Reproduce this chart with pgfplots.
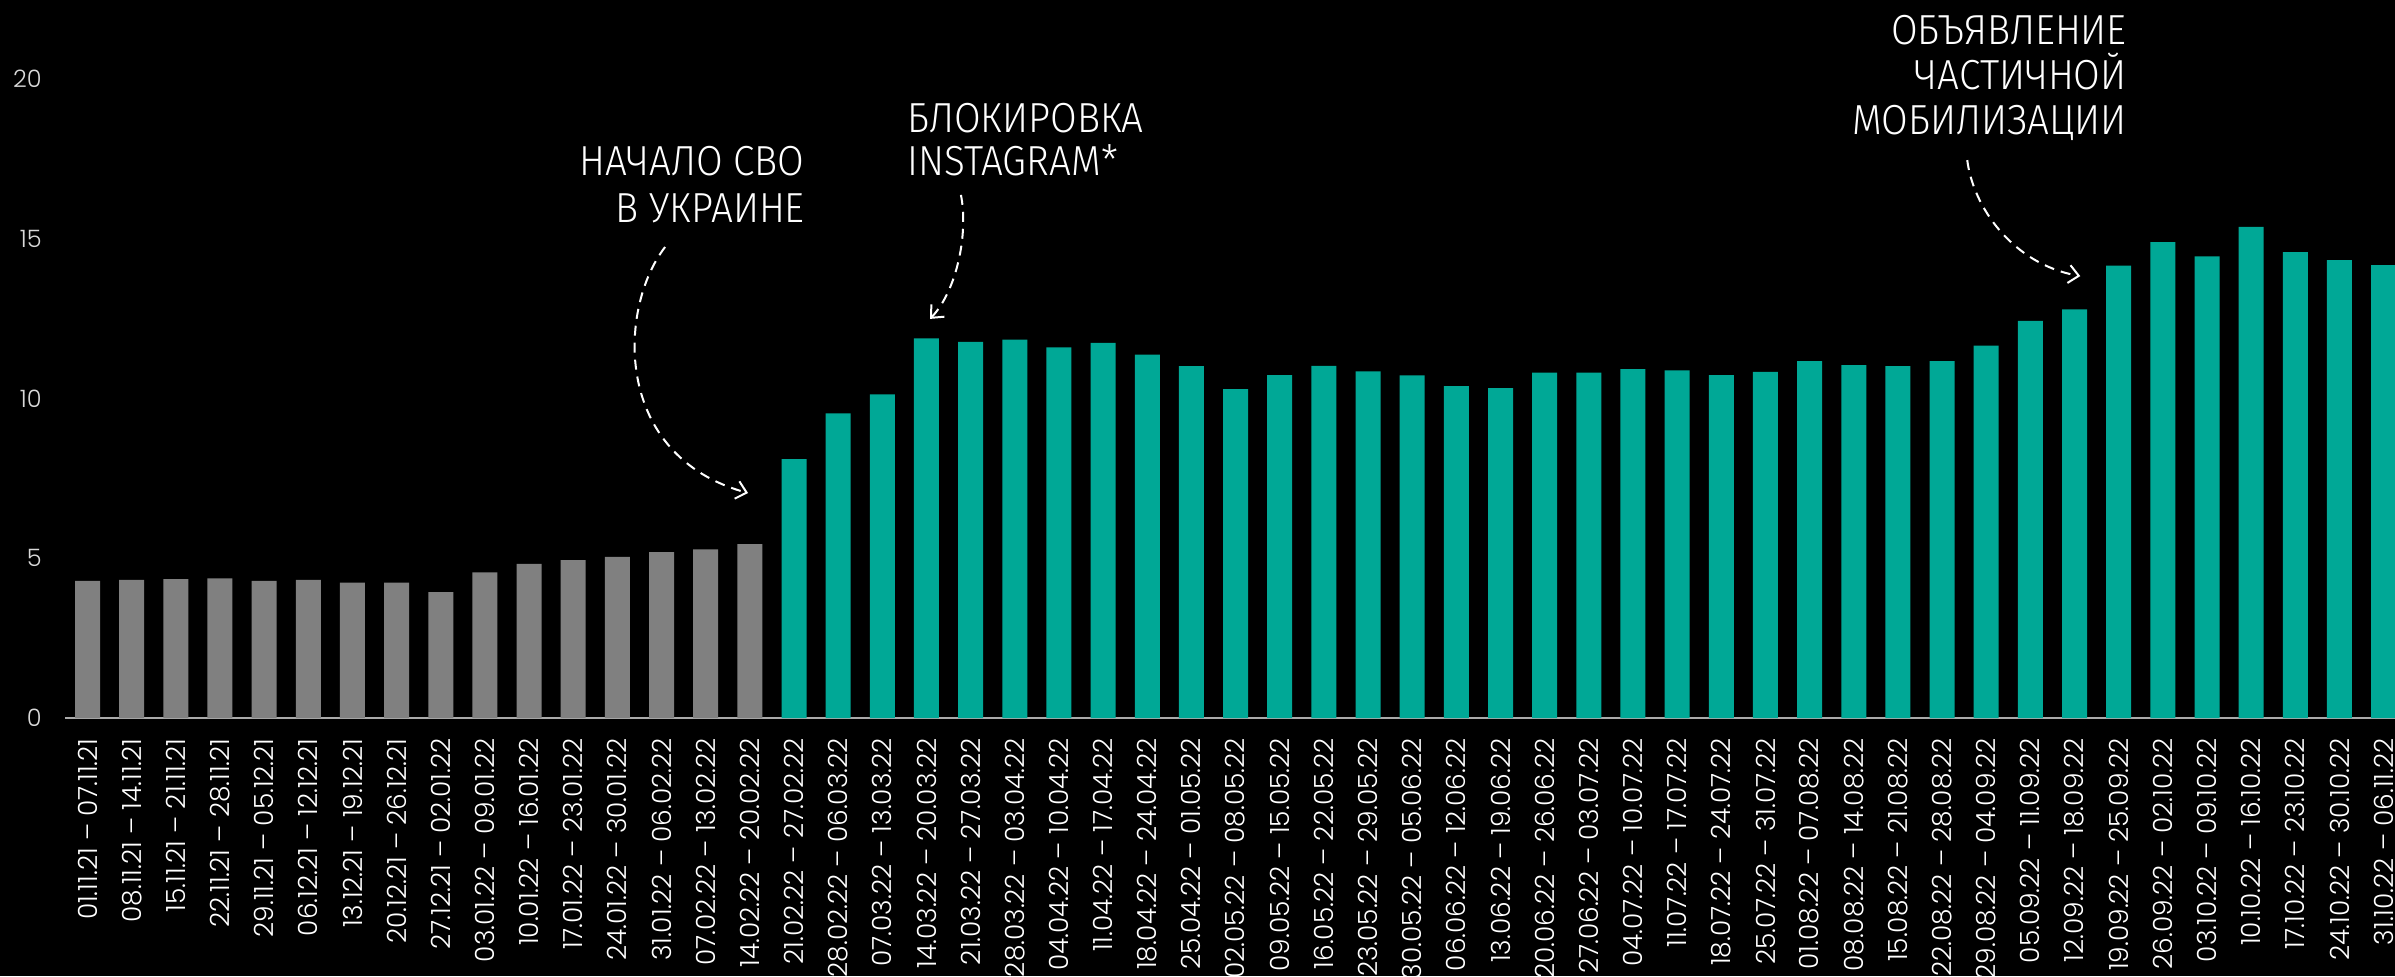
\documentclass[border=0pt]{standalone}
\usepackage{fontspec}
\usepackage{pgfplots}
\pgfplotsset{compat=1.18}
\usetikzlibrary{arrows.meta}
\setmainfont{Fira Sans}
\newfontfamily\annfont{Fira Sans Light}[FakeStretch=0.92]
\newfontfamily\tickfont{Poppins Light}
\definecolor{teal1}{RGB}{0,168,150}
\definecolor{gray1}{RGB}{128,128,128}
\definecolor{basec}{RGB}{170,170,170}
\begin{document}
\begin{tikzpicture}
\fill[black] (-32.5pt,-129pt) rectangle (1165pt,359pt);
\begin{axis}[
  at={(0,0)}, anchor=south west,
  width=1165pt, height=359pt, scale only axis,
  xmin=-0.51, xmax=52.26, ymin=0, ymax=22.47,
  axis line style={draw=none},
  major tick length=0pt,
  xtick={0,...,52},
  xticklabels={01.11.21 – 07.11.21,08.11.21 – 14.11.21,15.11.21 – 21.11.21,22.11.21 – 28.11.21,29.11.21 – 05.12.21,06.12.21 – 12.12.21,13.12.21 – 19.12.21,20.12.21 – 26.12.21,27.12.21 – 02.01.22,03.01.22 – 09.01.22,10.01.22 – 16.01.22,17.01.22 – 23.01.22,24.01.22 – 30.01.22,31.01.22 – 06.02.22,07.02.22 – 13.02.22,14.02.22 – 20.02.22,21.02.22 – 27.02.22,28.02.22 – 06.03.22,07.03.22 – 13.03.22,14.03.22 – 20.03.22,21.03.22 – 27.03.22,28.03.22 – 03.04.22,04.04.22 – 10.04.22,11.04.22 – 17.04.22,18.04.22 – 24.04.22,25.04.22 – 01.05.22,02.05.22 – 08.05.22,09.05.22 – 15.05.22,16.05.22 – 22.05.22,23.05.22 – 29.05.22,30.05.22 – 05.06.22,06.06.22 – 12.06.22,13.06.22 – 19.06.22,20.06.22 – 26.06.22,27.06.22 – 03.07.22,04.07.22 – 10.07.22,11.07.22 – 17.07.22,18.07.22 – 24.07.22,25.07.22 – 31.07.22,01.08.22 – 07.08.22,08.08.22 – 14.08.22,15.08.22 – 21.08.22,22.08.22 – 28.08.22,29.08.22 – 04.09.22,05.09.22 – 11.09.22,12.09.22 – 18.09.22,19.09.22 – 25.09.22,26.09.22 – 02.10.22,03.10.22 – 09.10.22,10.10.22 – 16.10.22,17.10.22 – 23.10.22,24.10.22 – 30.10.22,31.10.22 – 06.11.22},
  xticklabel style={rotate=90, anchor=east, inner sep=0pt, font=\tickfont\fontsize{13.2}{13.2}\selectfont, text=white},
  xticklabel shift=10pt,
  ytick={0,5,10,15,20},
  yticklabel style={anchor=east, inner sep=0pt, xshift=-11.5pt, font=\tickfont\fontsize{12}{12}\selectfont, text=white!85!black},
  /pgf/number format/assume math mode=true,
  clip=false,
]
\draw[basec, line width=1pt] (rel axis cs:0,0) -- (rel axis cs:1,0);
\addplot[ybar, bar width=12.5pt, fill=gray1, draw=none] coordinates {
(0,4.29) (1,4.32) (2,4.35) (3,4.37) (4,4.29) (5,4.32) (6,4.24) (7,4.24)
(8,3.94) (9,4.56) (10,4.82) (11,4.94) (12,5.04) (13,5.19) (14,5.28) (15,5.44)};
\addplot[ybar, bar width=12.5pt, fill=teal1, draw=none] coordinates {
(16,8.10) (17,9.53) (18,10.13) (19,11.88) (20,11.77) (21,11.84) (22,11.60) (23,11.74)
(24,11.37) (25,11.01) (26,10.29) (27,10.73) (28,11.02) (29,10.85) (30,10.72) (31,10.39)
(32,10.32) (33,10.81) (34,10.81) (35,10.92) (36,10.88) (37,10.73) (38,10.83) (39,11.17)
(40,11.04) (41,11.01) (42,11.17) (43,11.65) (44,12.43) (45,12.79) (46,14.16) (47,14.89)
(48,14.45) (49,15.37) (50,14.58) (51,14.33) (52,14.17)};
\node[align=right, anchor=north east, inner sep=0pt, text=white, font=\annfont\fontsize{21}{23.5}\selectfont] at (axis cs:16.25,17.9) {НАЧАЛО СВО\\В УКРАИНЕ};
\node[align=left, anchor=north west, inner sep=0pt, text=white, font=\annfont\fontsize{21}{21.5}\selectfont] at (axis cs:18.56,19.25) {БЛОКИРОВКА\\INSTAGRAM*};
\node[align=right, anchor=north east, inner sep=0pt, text=white, font=\annfont\fontsize{21}{22.5}\selectfont] at (axis cs:46.19,22.0) {ОБЪЯВЛЕНИЕ\\ЧАСТИЧНОЙ\\МОБИЛИЗАЦИИ};
\draw[white, line width=1pt, dash pattern=on 5pt off 3.5pt, -{Straight Barb[length=5pt, width=9pt]}] (axis cs:13.08,14.74) .. controls (axis cs:12.0,12.8) and (axis cs:11.9,8.2) .. (axis cs:14.96,7.04);
\draw[white, line width=1pt, dash pattern=on 5pt off 3.5pt, -{Straight Barb[length=5pt, width=9pt]}] (axis cs:19.78,16.37) .. controls (axis cs:19.95,15.2) and (axis cs:19.7,13.4) .. (axis cs:19.08,12.49);
\draw[white, line width=1pt, dash pattern=on 5pt off 3.5pt, -{Straight Barb[length=5pt, width=9pt]}] (axis cs:42.57,17.46) .. controls (axis cs:42.7,16.0) and (axis cs:43.6,14.2) .. (axis cs:45.13,13.83);
\end{axis}
\pgfresetboundingbox
\useasboundingbox (-32.5pt,-129pt) rectangle (1165pt,359pt);
\end{tikzpicture}
\end{document}
